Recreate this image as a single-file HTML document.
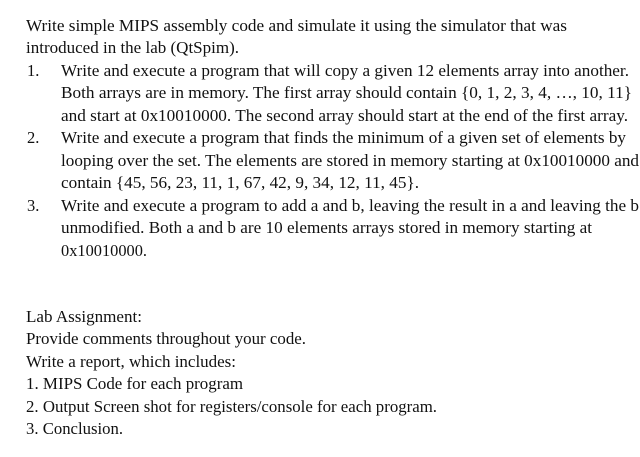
<!DOCTYPE html>
<html><head><meta charset="utf-8"><style>
html,body{margin:0;padding:0;background:#fff;width:640px;height:457px;overflow:hidden}
svg text{font-family:"Liberation Serif",serif;font-size:16.5px;fill:#111}
</style></head><body>
<svg width="640" height="457" xmlns="http://www.w3.org/2000/svg">
<text x="26" y="31" textLength="541" lengthAdjust="spacingAndGlyphs">Write simple MIPS assembly code and simulate it using the simulator that was</text>
<text x="26" y="53" textLength="213" lengthAdjust="spacingAndGlyphs">introduced in the lab (QtSpim).</text>
<text x="27" y="76">1.</text>
<text x="61" y="76" textLength="568" lengthAdjust="spacingAndGlyphs">Write and execute a program that will copy a given 12 elements array into another.</text>
<text x="61" y="98" textLength="571" lengthAdjust="spacingAndGlyphs">Both arrays are in memory. The first array should contain {0, 1, 2, 3, 4, …, 10, 11}</text>
<text x="61" y="121" textLength="567" lengthAdjust="spacingAndGlyphs">and start at 0x10010000. The second array should start at the end of the first array.</text>
<text x="27" y="143">2.</text>
<text x="61" y="143" textLength="565" lengthAdjust="spacingAndGlyphs">Write and execute a program that finds the minimum of a given set of elements by</text>
<text x="61" y="166" textLength="578" lengthAdjust="spacingAndGlyphs">looping over the set. The elements are stored in memory starting at 0x10010000 and</text>
<text x="61" y="188" textLength="358" lengthAdjust="spacingAndGlyphs">contain {45, 56, 23, 11, 1, 67, 42, 9, 34, 12, 11, 45}.</text>
<text x="27" y="211">3.</text>
<text x="61" y="211" textLength="578" lengthAdjust="spacingAndGlyphs">Write and execute a program to add a and b, leaving the result in a and leaving the b</text>
<text x="61" y="233" textLength="531" lengthAdjust="spacingAndGlyphs">unmodified. Both a and b are 10 elements arrays stored in memory starting at</text>
<text x="61" y="256" textLength="86" lengthAdjust="spacingAndGlyphs">0x10010000.</text>
<text x="26" y="322" textLength="116" lengthAdjust="spacingAndGlyphs">Lab Assignment:</text>
<text x="26" y="344" textLength="280" lengthAdjust="spacingAndGlyphs">Provide comments throughout your code.</text>
<text x="26" y="367" textLength="210" lengthAdjust="spacingAndGlyphs">Write a report, which includes:</text>
<text x="26" y="389" textLength="217" lengthAdjust="spacingAndGlyphs">1. MIPS Code for each program</text>
<text x="26" y="412" textLength="411" lengthAdjust="spacingAndGlyphs">2. Output Screen shot for registers/console for each program.</text>
<text x="26" y="434" textLength="97" lengthAdjust="spacingAndGlyphs">3. Conclusion.</text>
</svg>
</body></html>
